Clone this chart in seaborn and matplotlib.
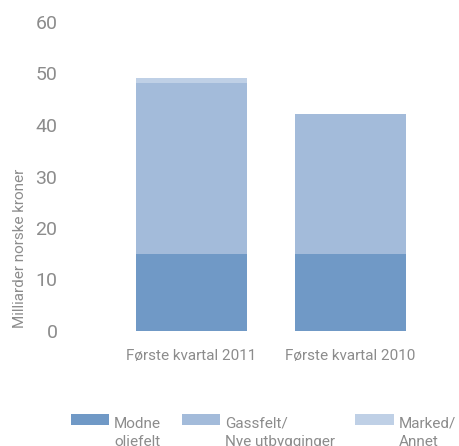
import numpy as np
import pandas as pd
import matplotlib
matplotlib.use("Agg")
import matplotlib.pyplot as plt
import seaborn as sns
from matplotlib.patches import Patch, Rectangle
from matplotlib.legend_handler import HandlerPatch

# Data (billions NOK)
quarters = ["Første kvartal 2011", "Første kvartal 2010"]
modne = [15.0, 15.0]
gassfelt = [33.2, 27.1]
marked = [0.9, 0.0]

series_labels = ["Modne\noljefelt", "Gassfelt/\nNye utbygginger", "Marked/\nAnnet"]
colors = ["#7099c6", "#a3bbda", "#bfd0e6"]
text_gray = "#8c8c8c"

sns.set_theme(style="white")
plt.rcParams["font.family"] = ["Roboto", "DejaVu Sans"]

df = pd.DataFrame({"kvartal": quarters, "modne": modne,
                   "gassfelt": gassfelt, "marked": marked})
df["lvl1"] = df["modne"]
df["lvl2"] = df["modne"] + df["gassfelt"]
df["lvl3"] = df["lvl2"] + df["marked"]

fig = plt.figure(figsize=(4.6, 4.46), dpi=100)
ax = fig.add_axes([70 / 460, 1 - 331 / 446, 390 / 460, 309 / 446])

# stacked by drawing cumulative totals, tallest first
for col, c in zip(["lvl3", "lvl2", "lvl1"], colors[::-1]):
    sns.barplot(data=df, x="kvartal", y=col, color=c, width=0.7,
                saturation=1, ax=ax, linewidth=0)

ax.set_xlim((70 - 191.5) / 159, (460 - 191.5) / 159)
ax.set_ylim(0, 60)
ax.set_yticks(range(0, 61, 10))
sns.despine(ax=ax, left=True, bottom=True)
ax.tick_params(axis="y", length=0, pad=9, labelsize=14, labelcolor=text_gray)
ax.tick_params(axis="x", length=0, pad=13, labelsize=11, labelcolor=text_gray)
ax.set_xlabel("")
ax.set_ylabel("Milliarder norske kroner", fontsize=11, color=text_gray)
ax.yaxis.set_label_coords(-43 / 390, 0.268)


# swatch lifted a little so it sits beside the first text line
def raised_swatch(legend, orig_handle, xdescent, ydescent, width, height, fontsize):
    return Rectangle((-xdescent, -ydescent + 2.2), width, height)


handles = [Patch(facecolor=c, edgecolor="none") for c in colors]
leg = fig.legend(handles, series_labels, loc="upper left", ncol=3,
                 bbox_to_anchor=(71 / 460, 1 - 417 / 446), frameon=False,
                 fontsize=11, labelcolor=text_gray, handlelength=2.5,
                 handleheight=0.75, handletextpad=0.32, columnspacing=1.35,
                 borderaxespad=0, borderpad=0,
                 handler_map={Patch: HandlerPatch(patch_func=raised_swatch)})
for column in leg._legend_handle_box.get_children():
    for row in column.get_children():
        row.align = "top"
for t in leg.get_texts():
    t.set_linespacing(1.4)

fig.savefig("out.png", dpi=100)
